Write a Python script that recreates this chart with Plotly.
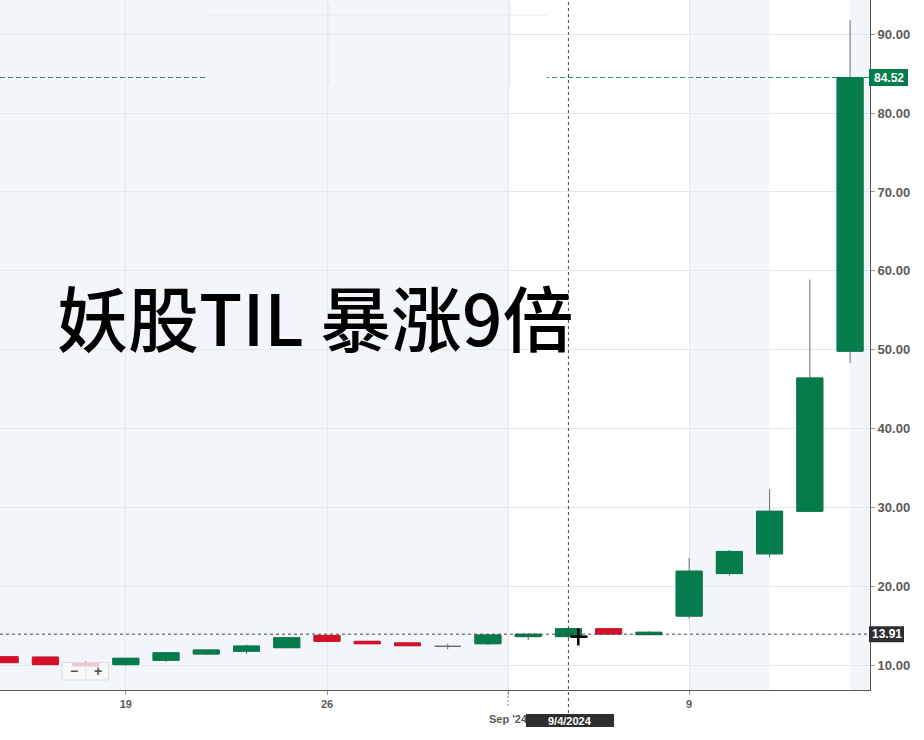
import plotly.graph_objects as go

# ---------------- data ----------------
dates = ["2024-08-14", "2024-08-15", "2024-08-16", "2024-08-19", "2024-08-20",
         "2024-08-21", "2024-08-22", "2024-08-23", "2024-08-26", "2024-08-27",
         "2024-08-28", "2024-08-29", "2024-08-30", "2024-09-03", "2024-09-04",
         "2024-09-05", "2024-09-06", "2024-09-09", "2024-09-10", "2024-09-11",
         "2024-09-12", "2024-09-13"]
open_ = [11.05, 11.00, 10.30, 10.05, 10.60, 11.40, 11.75, 12.20, 13.75, 13.00,
         12.80, 12.37, 12.70, 13.60, 13.60, 14.60, 13.85, 16.20, 21.60, 24.10,
         29.50, 49.80]
high = [11.10, 11.05, 10.50, 10.90, 11.60, 11.90, 12.60, 13.55, 13.80, 13.05,
        12.92, 12.70, 13.80, 13.90, 14.75, 14.65, 14.30, 23.60, 24.60, 32.30,
        58.90, 91.80]
low = [10.25, 10.00, 9.80, 9.95, 10.40, 11.25, 11.40, 12.15, 12.92, 12.70,
       12.45, 12.00, 12.54, 13.17, 13.45, 13.90, 13.80, 15.87, 21.33, 23.60,
       29.40, 48.30]
close = [10.30, 10.05, 9.90, 10.85, 11.55, 11.90, 12.40, 13.45, 13.00, 12.70,
         12.45, 12.37, 13.80, 13.90, 14.60, 13.93, 14.15, 21.90, 24.40, 29.50,
         46.40, 84.52]

last_price = 84.52
cursor_price = 13.91
cursor_date = "2024-09-04"
cursor_date_label = "9/4/2024"

x_tick_vals = ["2024-08-19", "2024-08-26", "2024-08-30 12:00", "2024-09-09"]
x_tick_text = ["19", "26", "<br>Sep '24", "9"]
y_tick_vals = [10, 20, 30, 40, 50, 60, 70, 80, 90]
y_tick_text = ["10.00", "20.00", "30.00", "40.00", "50.00", "60.00", "70.00", "80.00", "90.00"]

title_text = "妖股TIL 暴涨9倍"

# ---------------- styles ----------------
GREEN = "#047c4c"
RED = "#d7102a"
WICK = "#6b6b6b"
SHADE = "#f2f5f9"
GRID = "#e6e8eb"
AXIS = "#555555"
LABEL = "#5a5a5a"

W_PLOT, H_PLOT = 870.0, 690.0  # plot area in px


def px(xp):
    return xp / W_PLOT


def py(yp):
    return 1 - yp / H_PLOT


# bodies only (no wick) for non-doji candles
b_dates, b_o, b_h, b_l, b_c = [], [], [], [], []
for d, o, c in zip(dates, open_, close):
    if o != c:
        b_dates.append(d)
        b_o.append(o)
        b_c.append(c)
        b_h.append(max(o, c))
        b_l.append(min(o, c))

fig = go.Figure()

# wicks (gray)
fig.add_trace(go.Candlestick(
    x=dates, open=open_, high=high, low=low, close=close,
    increasing=dict(line=dict(color=WICK, width=1), fillcolor="rgba(0,0,0,0)"),
    decreasing=dict(line=dict(color=WICK, width=1), fillcolor="rgba(0,0,0,0)"),
    whiskerwidth=0, hoverinfo="skip", showlegend=False,
))
# bodies
fig.add_trace(go.Candlestick(
    x=b_dates, open=b_o, high=b_h, low=b_l, close=b_c,
    increasing=dict(line=dict(color=GREEN, width=1), fillcolor=GREEN),
    decreasing=dict(line=dict(color=RED, width=1), fillcolor=RED),
    whiskerwidth=0, hoverinfo="skip", showlegend=False,
))

x_start = "2024-08-13 20:57"
x_end = "2024-09-13 11:53"

shapes = []
# shaded background bands
for a, b in [(x_start, "2024-08-30 12:00"), ("2024-09-09", "2024-09-11"), ("2024-09-13", x_end)]:
    shapes.append(dict(type="rect", xref="x", yref="paper", x0=a, x1=b, y0=0, y1=1,
                       fillcolor=SHADE, line=dict(width=0), layer="below"))

# last price dashed line
shapes.append(dict(type="line", xref="paper", yref="y", x0=0, x1=1, y0=last_price, y1=last_price,
                   line=dict(color="rgba(4,124,76,0.85)", width=1, dash="5px,3px"), layer="between"))

# top patch (displaced region in the screenshot)
shapes.append(dict(type="rect", xref="paper", yref="paper", x0=px(208), x1=px(510), y0=py(85), y1=py(3),
                   fillcolor=SHADE, line=dict(width=0), layer="between"))
shapes.append(dict(type="rect", xref="paper", yref="paper", x0=px(510), x1=px(547), y0=py(85), y1=py(3),
                   fillcolor="white", line=dict(width=0), layer="between"))
shapes.append(dict(type="line", xref="paper", yref="paper", x0=px(208), x1=px(547), y0=py(15), y1=py(15),
                   line=dict(color=GRID, width=1), layer="between"))
for xp in (329, 510):
    shapes.append(dict(type="line", xref="paper", yref="paper", x0=px(xp), x1=px(xp), y0=py(85), y1=py(3),
                       line=dict(color=GRID, width=1), layer="between"))

# crosshair
shapes.append(dict(type="line", xref="paper", yref="y", x0=0, x1=1, y0=cursor_price, y1=cursor_price,
                   line=dict(color="#444444", width=1, dash="3px,3px"), layer="above"))
shapes.append(dict(type="line", xref="x", yref="paper", x0=cursor_date, x1=cursor_date, y0=py(713), y1=1,
                   line=dict(color="#444444", width=1, dash="3px,3px"), layer="above"))

# Sep '24 dotted tick
shapes.append(dict(type="line", xref="x", yref="paper", x0="2024-08-30 12:00", x1="2024-08-30 12:00",
                   y0=py(706), y1=0, line=dict(color="#888888", width=1, dash="2px,2px"), layer="above"))

# price tags
shapes.append(dict(type="rect", xref="paper", yref="y", x0=px(869), x1=px(908),
                   y0=last_price - 8.5 / 7.884, y1=last_price + 8.5 / 7.884,
                   fillcolor=GREEN, line=dict(width=0), layer="above"))
shapes.append(dict(type="rect", xref="paper", yref="y", x0=px(869), x1=px(904),
                   y0=cursor_price - 8 / 7.884, y1=cursor_price + 8 / 7.884,
                   fillcolor="#2e2e2e", line=dict(width=0), layer="above"))
# date tag
shapes.append(dict(type="rect", xref="paper", yref="paper", x0=px(526), x1=px(614), y0=py(727), y1=py(714),
                   fillcolor="#2e2e2e", line=dict(width=0), layer="above"))

# zoom control
shapes.append(dict(type="rect", xref="paper", yref="paper", x0=px(62), x1=px(108.5), y0=py(680), y1=py(662.5),
                   fillcolor="rgba(248,248,248,0.78)", line=dict(color="#dddddd", width=1), layer="above"))
shapes.append(dict(type="line", xref="paper", yref="paper", x0=px(86), x1=px(86), y0=py(678), y1=py(664.5),
                   line=dict(color="#e2e2e2", width=1), layer="above"))

# mouse cursor
shapes.append(dict(type="line", xref="paper", yref="paper", x0=px(570.5), x1=px(587.5), y0=py(636.7), y1=py(636.7),
                   line=dict(color="black", width=2.5), layer="above"))
shapes.append(dict(type="line", xref="paper", yref="paper", x0=px(578.3), x1=px(578.3), y0=py(645.5), y1=py(628.5),
                   line=dict(color="black", width=2.5), layer="above"))

annotations = [
    dict(text=title_text, xref="paper", yref="paper", x=px(315), y=py(315),
         showarrow=False, font=dict(family="Noto Sans CJK SC", size=71, color="black", weight=500),
         xanchor="center", yanchor="middle"),
    dict(text=f"<b>{last_price:.2f}</b>", xref="paper", yref="y", x=px(888.5), y=last_price,
         showarrow=False, font=dict(family="Liberation Sans, Arial", size=12, color="white"),
         xanchor="center", yanchor="middle"),
    dict(text=f"<b>{cursor_price:.2f}</b>", xref="paper", yref="y", x=px(886.5), y=cursor_price,
         showarrow=False, font=dict(family="Liberation Sans, Arial", size=12, color="white"),
         xanchor="center", yanchor="middle"),
    dict(text=f"<b>{cursor_date_label}</b>", xref="paper", yref="paper", x=px(570), y=py(720.5),
         showarrow=False, font=dict(family="Liberation Sans, Arial", size=11, color="white"),
         xanchor="center", yanchor="middle"),
    dict(text="<b>−</b>", xref="paper", yref="paper", x=px(74), y=py(671),
         showarrow=False, font=dict(family="Liberation Sans, Arial", size=14, color="#555555"),
         xanchor="center", yanchor="middle"),
    dict(text="<b>+</b>", xref="paper", yref="paper", x=px(97.5), y=py(671),
         showarrow=False, font=dict(family="Liberation Sans, Arial", size=14, color="#555555"),
         xanchor="center", yanchor="middle"),
]

fig.update_layout(
    width=924, height=740,
    margin=dict(l=0, r=54, t=0, b=50),
    paper_bgcolor="white", plot_bgcolor="white",
    boxgap=0.354, boxgroupgap=0,
    showlegend=False,
    shapes=shapes,
    annotations=annotations,
    hovermode=False,
    xaxis=dict(
        type="date",
        range=[x_start, x_end],
        rangebreaks=[dict(bounds=["sat", "mon"]), dict(values=["2024-09-02"])],
        rangeslider=dict(visible=False),
        tickmode="array", tickvals=x_tick_vals, ticktext=[f"<b>{t}</b>" for t in x_tick_text],
        ticks="outside", ticklen=4, tickcolor="#999999",
        tickfont=dict(family="Liberation Sans, Arial", size=11, color=LABEL),
        showgrid=True, gridcolor=GRID, gridwidth=1,
        showline=True, linecolor=AXIS, linewidth=1,
        zeroline=False, fixedrange=True,
    ),
    yaxis=dict(
        side="right",
        range=[6.829, 94.35],
        tickmode="array", tickvals=y_tick_vals, ticktext=[f"<b>{t}</b>" for t in y_tick_text],
        ticks="outside", ticklen=4, tickcolor="#999999",
        tickfont=dict(family="Liberation Sans, Arial", size=13, color=LABEL),
        showgrid=True, gridcolor=GRID, gridwidth=1,
        showline=True, linecolor=AXIS, linewidth=1,
        zeroline=False, fixedrange=True,
    ),
)

fig.write_html("out.html", config=dict(displayModeBar=False),
               post_script="document.body.style.margin='0';document.body.style.overflow='hidden';")
